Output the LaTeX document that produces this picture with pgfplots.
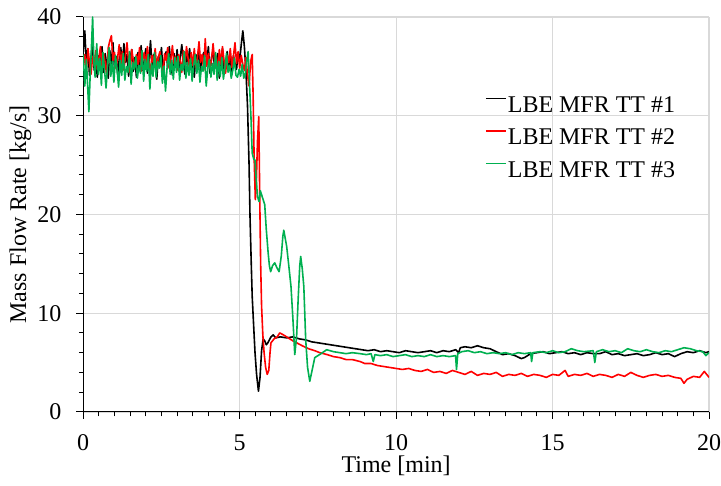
\documentclass[border=0pt]{standalone}
\usepackage{fontspec}
\setmainfont{Liberation Serif}
\usepackage{pgfplots}
\pgfplotsset{compat=1.18}
\definecolor{xlgreen}{HTML}{00B050}
\definecolor{xlred}{HTML}{FF0000}
\definecolor{gridgray}{HTML}{D9D9D9}

\begin{document}
\fontsize{12}{14}\selectfont
\begin{tikzpicture}
\begin{axis}[
  name=ax,
  scale only axis,
  width=313.1pt,height=197.6pt,
  xmin=0,xmax=20,ymin=0,ymax=40,
  xtick={0,5,10,15,20},ytick={0,10,20,30,40},
  minor x tick num=9,minor y tick num=4,
  axis x line*=bottom,axis y line*=left,
  axis line style={-,black,line width=0.5pt},
  tick align=outside,
  major tick length=3.5pt,minor tick length=2.2pt,
  tick style={black,line width=0.5pt},
  xmajorgrids,ymajorgrids,
  major grid style={gridgray,line width=0.6pt},
  /pgf/number format/assume math mode=true,
  ticklabel style={font=\fontsize{12}{14}\selectfont,inner sep=0pt},
  xticklabel style={yshift=-7.8pt},
  yticklabel style={xshift=-7.3pt},
  xlabel={Time [min]},
  ylabel={Mass Flow Rate [kg/s]},
  every axis x label/.style={at={(axis description cs:0.5,-0.1366)},anchor=center},
  every axis y label/.style={at={(axis description cs:-0.1006,0.5)},anchor=center,rotate=90},
  legend style={at={(axis cs:12.83,32.19)},anchor=north west,draw=none,fill=none,
    inner sep=0pt,row sep=4.25pt,column sep=0.6pt,
    nodes={inner sep=0pt,text height=9pt,text depth=3pt},
    font=\fontsize{12}{14}\selectfont},
  legend cell align=left,
  legend image code/.code={\draw[#1] (0pt,4pt) -- (10pt,4pt);},
  every axis plot/.append style={line width=0.8pt,line join=round},
]
% TT #1
\addplot[black] coordinates {
(0,36.5) (0.05,38.6) (0.1,35.2) (0.15,36.8) (0.2,34.1) (0.25,35.9) (0.3,37.2) (0.35,34.6) (0.4,35.8) (0.45,33.9)
(0.5,36.1) (0.55,35.0) (0.6,37.0) (0.65,34.4) (0.7,36.3) (0.75,35.2) (0.8,33.8) (0.85,36.6) (0.9,35.1) (0.95,37.4)
(1.0,34.7) (1.05,36.0) (1.1,34.2) (1.15,35.7) (1.2,36.9) (1.25,34.9) (1.3,37.3) (1.35,35.4) (1.4,36.2) (1.45,34.0)
(1.5,35.8) (1.55,36.7) (1.6,34.5) (1.65,35.9) (1.7,33.9) (1.75,36.4) (1.8,35.0) (1.85,37.1) (1.9,34.6) (1.95,35.6)
(2.0,36.8) (2.05,34.3) (2.1,35.5) (2.15,37.6) (2.2,34.8) (2.25,36.2) (2.3,35.1) (2.35,33.7) (2.4,36.0) (2.45,35.3)
(2.5,36.9) (2.55,34.4) (2.6,35.7) (2.65,36.5) (2.7,34.9) (2.75,37.0) (2.8,35.2) (2.85,34.1) (2.9,36.3) (2.95,35.0)
(3.0,36.7) (3.05,34.6) (3.1,35.9) (3.15,37.2) (3.2,35.3) (3.25,34.2) (3.3,36.1) (3.35,35.4) (3.4,36.8) (3.45,34.7)
(3.5,35.6) (3.55,33.9) (3.6,36.2) (3.65,35.1) (3.7,36.9) (3.75,34.5) (3.8,35.8) (3.85,36.4) (3.9,34.9) (3.95,35.5)
(4.0,37.0) (4.05,34.3) (4.1,35.9) (4.15,36.6) (4.2,34.8) (4.25,35.4) (4.3,36.3) (4.35,33.8) (4.4,35.7) (4.45,36.8)
(4.5,34.6) (4.55,35.2) (4.6,36.5) (4.65,34.9) (4.7,35.8) (4.75,34.2) (4.8,36.1) (4.85,35.3) (4.9,34.7) (4.95,36.4)
(5.0,35.6) (5.05,37.2) (5.1,38.6) (5.15,37.0) (5.2,34.5) (5.25,31.0) (5.3,25.0) (5.33,19.8) (5.37,15.0) (5.4,11.7)
(5.45,8.5) (5.49,6.0) (5.54,3.8) (5.6,2.1) (5.65,3.5) (5.7,6.2) (5.75,7.4) (5.8,7.2) (5.85,6.8) (5.9,7.0)
(6.0,7.6) (6.07,7.8) (6.15,7.5) (6.3,7.6) (6.5,7.5) (6.7,7.6) (6.9,7.4) (7.1,7.3) (7.3,7.1) (7.5,7.0)
(7.7,6.9) (7.9,6.8) (8.1,6.7) (8.3,6.6) (8.5,6.5) (8.7,6.4) (8.9,6.3) (9.1,6.2) (9.3,6.3) (9.5,6.1)
(9.7,6.2) (9.9,6.1) (10.1,6.0) (10.3,6.2) (10.5,6.1) (10.7,6.0) (10.9,6.1) (11.1,6.2) (11.3,6.0) (11.5,6.2)
(11.7,6.1) (11.9,6.3) (12.0,6.0) (12.05,6.5) (12.2,6.6) (12.4,6.5) (12.6,6.7) (12.8,6.5) (13.0,6.4) (13.2,6.1)
(13.4,5.8) (13.6,5.9) (13.8,5.7) (14.0,5.4) (14.1,5.5) (14.3,5.9) (14.5,6.0) (14.7,6.1) (14.9,5.9) (15.1,6.0)
(15.3,6.1) (15.5,5.9) (15.7,6.0) (15.9,5.8) (16.1,6.0) (16.3,5.9) (16.5,5.9) (16.7,6.1) (16.9,5.8) (17.1,5.9)
(17.3,5.7) (17.5,5.8) (17.7,5.9) (17.9,5.7) (18.1,5.8) (18.3,6.0) (18.5,5.8) (18.7,5.9) (18.9,5.6) (19.1,5.9)
(19.3,6.1) (19.5,6.0) (19.7,6.2) (19.9,6.0) (20,6.1)
};
\addlegendentry{LBE MFR TT \#1}
% TT #2
\addplot[xlred] coordinates {
(0,35.0) (0.05,36.2) (0.1,34.5) (0.15,36.8) (0.2,35.3) (0.25,34.2) (0.3,36.0) (0.35,35.1) (0.4,36.6) (0.45,34.7)
(0.5,35.8) (0.55,37.0) (0.6,34.9) (0.65,36.3) (0.7,35.4) (0.75,34.1) (0.8,36.9) (0.85,37.6) (0.9,38.1) (0.95,35.6)
(1.0,36.4) (1.05,34.8) (1.1,35.9) (1.15,37.2) (1.2,35.0) (1.25,36.5) (1.3,34.6) (1.35,36.1) (1.4,37.4) (1.45,35.3)
(1.5,34.4) (1.55,36.7) (1.6,35.6) (1.65,34.9) (1.7,36.2) (1.75,35.2) (1.8,36.9) (1.85,34.5) (1.9,35.7) (1.95,36.4)
(2.0,35.0) (2.05,37.0) (2.1,35.5) (2.15,34.3) (2.2,36.1) (2.25,35.4) (2.3,36.8) (2.35,34.7) (2.4,35.9) (2.45,36.5)
(2.5,35.1) (2.55,34.2) (2.6,36.3) (2.65,35.6) (2.7,36.9) (2.75,34.8) (2.8,35.7) (2.85,37.1) (2.9,35.3) (2.95,36.0)
(3.0,34.6) (3.05,36.2) (3.1,35.5) (3.15,34.4) (3.2,36.6) (3.25,35.2) (3.3,37.0) (3.35,35.8) (3.4,34.7) (3.45,36.4)
(3.5,35.1) (3.55,36.8) (3.6,34.9) (3.65,35.9) (3.7,37.5) (3.75,35.4) (3.8,36.2) (3.85,34.6) (3.9,37.8) (3.95,35.0)
(4.0,36.3) (4.05,34.8) (4.1,35.7) (4.15,37.3) (4.2,35.5) (4.25,36.0) (4.3,34.5) (4.35,36.7) (4.4,35.2) (4.45,37.0)
(4.5,35.6) (4.55,34.3) (4.6,36.1) (4.65,35.4) (4.7,36.8) (4.75,34.9) (4.8,36.0) (4.85,37.4) (4.9,35.3) (4.95,36.5)
(5.0,34.8) (5.05,36.1) (5.1,35.2) (5.15,34.6) (5.2,35.9) (5.25,34.1) (5.3,33.0) (5.35,35.5) (5.4,36.2) (5.43,32.0)
(5.46,26.0) (5.5,21.5) (5.53,23.0) (5.57,27.5) (5.61,29.9) (5.64,22.0) (5.67,15.0) (5.7,10.7) (5.74,7.8) (5.78,6.0)
(5.83,4.5) (5.88,3.8) (5.93,4.2) (5.97,6.0) (6.0,7.0) (6.1,7.4) (6.2,7.6) (6.28,8.0) (6.4,7.8) (6.55,7.5)
(6.7,7.2) (6.82,7.0) (7.0,6.7) (7.2,6.4) (7.4,6.2) (7.56,6.0) (7.8,5.8) (8.0,5.6) (8.2,5.5) (8.4,5.3)
(8.6,5.3) (8.85,5.1) (9.0,4.9) (9.2,4.9) (9.4,4.7) (9.6,4.6) (9.8,4.5) (10.0,4.4) (10.2,4.3) (10.4,4.4)
(10.6,4.2) (10.8,4.1) (11.0,4.3) (11.2,4.0) (11.4,4.1) (11.6,3.9) (11.8,4.2) (12.0,4.0) (12.2,3.8) (12.4,4.1)
(12.6,3.7) (12.8,3.9) (13.0,3.8) (13.2,4.0) (13.4,3.6) (13.6,3.8) (13.8,3.7) (14.0,3.9) (14.2,3.6) (14.4,3.8)
(14.6,3.7) (14.8,3.5) (15.0,3.8) (15.2,3.7) (15.4,4.2) (15.5,3.6) (15.7,3.8) (15.9,3.7) (16.1,3.9) (16.3,3.6)
(16.5,3.8) (16.7,3.7) (16.9,3.5) (17.1,3.8) (17.3,3.6) (17.5,4.0) (17.7,3.7) (17.9,3.5) (18.1,3.7) (18.3,3.8)
(18.5,3.6) (18.7,3.7) (18.9,3.5) (19.1,3.4) (19.2,2.9) (19.3,3.3) (19.5,3.6) (19.7,3.5) (19.85,4.1) (20,3.5)
};
\addlegendentry{LBE MFR TT \#2}
% TT #3
\addplot[xlgreen] coordinates {
(0,36.2) (0.05,33.0) (0.1,35.7) (0.15,32.4) (0.18,30.4) (0.22,34.0) (0.26,36.8) (0.3,40.0) (0.34,35.5) (0.38,33.9)
(0.43,37.3) (0.48,34.2) (0.53,35.8) (0.58,33.1) (0.63,36.4) (0.68,34.6) (0.73,32.8) (0.78,35.3) (0.83,36.9) (0.88,34.0)
(0.93,35.5) (0.98,33.4) (1.03,36.1) (1.08,34.8) (1.13,32.9) (1.18,35.6) (1.23,34.1) (1.28,36.3) (1.33,33.6) (1.38,35.0)
(1.43,34.4) (1.48,36.5) (1.53,33.2) (1.58,35.4) (1.63,34.7) (1.68,36.0) (1.73,33.8) (1.78,35.1) (1.83,34.3) (1.88,36.6)
(1.93,33.5) (1.98,35.7) (2.03,34.5) (2.08,36.2) (2.13,32.7) (2.18,35.3) (2.23,34.0) (2.28,36.4) (2.33,33.9) (2.38,35.5)
(2.43,34.8) (2.48,36.1) (2.53,33.3) (2.58,35.0) (2.63,32.5) (2.68,34.9) (2.73,36.3) (2.78,34.2) (2.83,35.6) (2.88,33.7)
(2.93,35.9) (2.98,34.4) (3.03,36.0) (3.08,33.6) (3.13,35.2) (3.18,34.6) (3.23,36.5) (3.28,33.8) (3.33,35.4) (3.38,34.1)
(3.43,35.8) (3.48,33.5) (3.53,35.1) (3.58,36.2) (3.63,34.3) (3.68,35.6) (3.73,33.4) (3.78,35.0) (3.83,34.5) (3.88,36.1)
(3.93,33.0) (3.98,34.8) (4.03,35.7) (4.08,33.9) (4.13,35.3) (4.18,34.2) (4.23,36.4) (4.28,33.6) (4.33,35.5) (4.38,34.0)
(4.43,35.9) (4.48,33.7) (4.53,34.9) (4.58,36.3) (4.63,34.4) (4.68,35.1) (4.73,33.8) (4.78,34.6) (4.83,35.8) (4.88,34.1)
(4.93,33.9) (4.98,34.7) (5.03,34.0) (5.08,35.2) (5.13,33.8) (5.18,34.3) (5.22,35.4) (5.27,36.5) (5.31,33.5) (5.36,29.9)
(5.4,26.2) (5.45,25.6) (5.49,25.5) (5.53,23.5) (5.57,21.8) (5.62,21.3) (5.66,22.4) (5.7,22.0) (5.75,21.5) (5.8,21.0)
(5.85,18.5) (5.91,16.1) (5.95,14.8) (5.99,14.2) (6.05,14.8) (6.12,15.1) (6.19,14.6) (6.26,14.2) (6.33,15.8) (6.38,17.8)
(6.41,18.4) (6.46,17.5) (6.5,16.8) (6.57,14.8) (6.64,12.7) (6.7,9.5) (6.76,5.8) (6.82,7.65) (6.87,11.5) (6.92,14.8)
(6.95,15.75) (7.0,14.5) (7.05,12.7) (7.11,7.3) (7.17,4.5) (7.24,3.1) (7.32,4.3) (7.4,5.5) (7.6,5.9) (7.78,6.3)
(8.0,6.1) (8.2,6.0) (8.4,5.9) (8.6,6.0) (8.85,5.9) (9.05,5.8) (9.2,5.9) (9.27,5.1) (9.32,5.8) (9.5,5.7)
(9.7,5.8) (9.9,5.6) (10.1,5.7) (10.3,5.8) (10.5,5.6) (10.7,5.7) (10.9,5.6) (11.1,5.8) (11.3,5.6) (11.5,5.7)
(11.7,5.6) (11.9,5.7) (11.93,4.3) (11.97,5.9) (12.1,6.1) (12.3,6.2) (12.5,6.0) (12.7,6.1) (12.9,5.9) (13.1,6.0)
(13.3,5.9) (13.5,6.0) (13.7,5.8) (13.9,6.0) (14.1,5.9) (14.3,6.0) (14.33,5.1) (14.37,6.0) (14.6,6.1) (14.8,6.0)
(15.0,6.2) (15.2,6.0) (15.4,6.1) (15.6,6.4) (15.8,6.2) (16.0,6.1) (16.3,6.2) (16.35,5.0) (16.4,6.1) (16.6,6.3)
(16.8,6.1) (17.0,6.2) (17.2,6.0) (17.4,6.4) (17.6,6.2) (17.8,6.1) (18.0,6.3) (18.2,6.1) (18.4,6.0) (18.6,6.2)
(18.8,6.1) (19.0,6.3) (19.2,6.5) (19.4,6.4) (19.6,6.2) (19.8,6.1) (19.9,5.7) (20,6.0)
};
\addlegendentry{LBE MFR TT \#3}
\end{axis}
\pgfresetboundingbox
\path[use as bounding box] ([xshift=-41.65pt,yshift=-36.85pt]ax.south west) rectangle ([xshift=6pt,yshift=8.5pt]ax.north east);
\end{tikzpicture}
\end{document}
